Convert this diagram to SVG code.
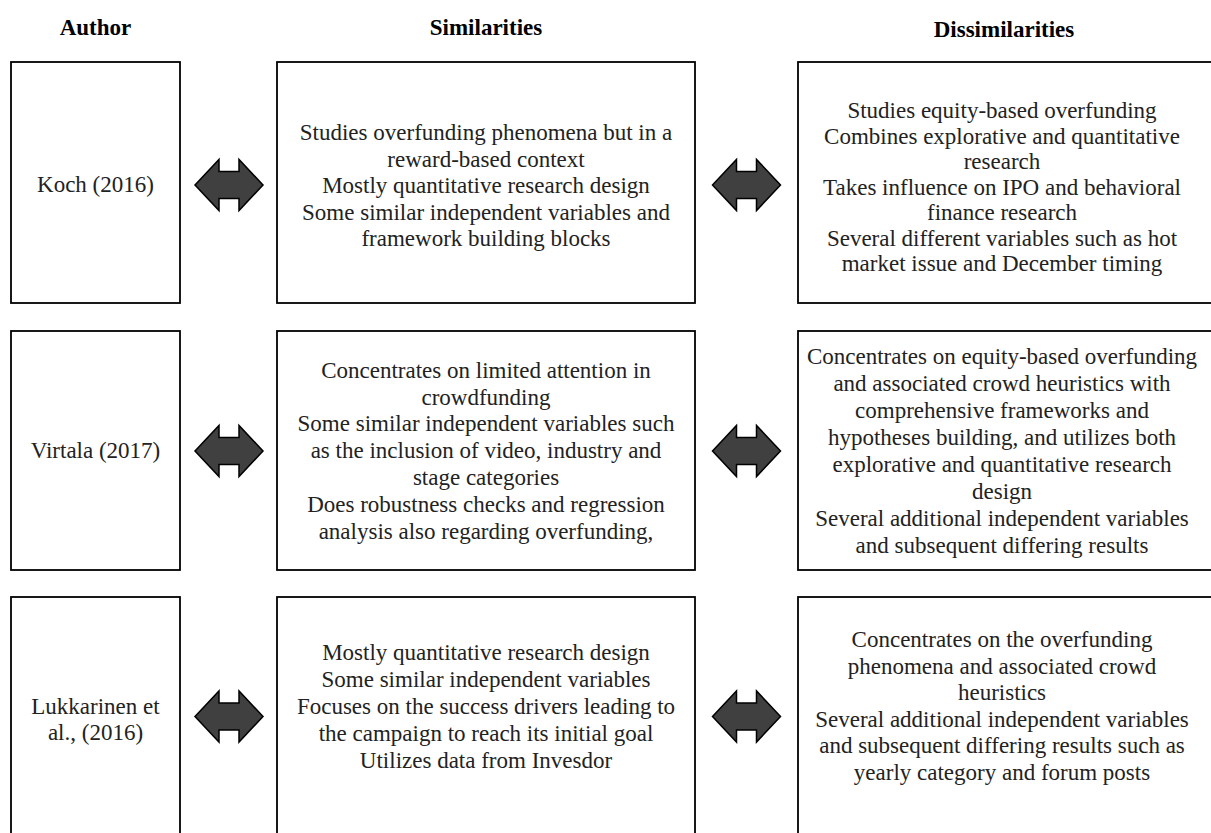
<svg xmlns="http://www.w3.org/2000/svg" width="1211" height="833" viewBox="0 0 1211 833">
<style>
.box{fill:#fff;stroke:#000;stroke-width:1.8}
.t{font-family:"Liberation Serif","Times New Roman",serif;font-size:23px;fill:#222;text-anchor:middle}
.h{font-family:"Liberation Serif","Times New Roman",serif;font-size:23px;font-weight:bold;fill:#000;text-anchor:middle}
.arr{fill:#404040;stroke:#000;stroke-width:1.5;stroke-linejoin:miter}
</style>
<defs>
<path id="dbl" d="M-34,0 L-10,-25.5 L-10,-13.5 L10,-13.5 L10,-25.5 L34,0 L10,25.5 L10,13.5 L-10,13.5 L-10,25.5 Z"/>
</defs>
<rect width="1211" height="833" fill="#fff"/>
<g id="headers">
<text class="h" x="95.5" y="35">Author</text>
<text class="h" x="486" y="35">Similarities</text>
<text class="h" x="1004" y="37">Dissimilarities</text>
</g>
<g id="koch">
<rect class="box" x="11" y="62" width="169" height="241"/>
<text class="t" x="95.5" y="192">Koch (2016)</text>
</g>
<g id="koch-sim">
<rect class="box" x="277" y="62" width="418" height="241"/>
<text class="t" x="486"><tspan x="486" y="140">Studies overfunding phenomena but in a</tspan><tspan x="486" y="167">reward-based context</tspan><tspan x="486" y="193">Mostly quantitative research design</tspan><tspan x="486" y="220">Some similar independent variables and</tspan><tspan x="486" y="246">framework building blocks</tspan></text>
</g>
<g id="koch-dis">
<rect class="box" x="798" y="62" width="420" height="241"/>
<text class="t" x="1002"><tspan x="1002" y="118">Studies equity-based overfunding</tspan><tspan x="1002" y="143.5">Combines explorative and quantitative</tspan><tspan x="1002" y="169">research</tspan><tspan x="1002" y="194.5">Takes influence on IPO and behavioral</tspan><tspan x="1002" y="220">finance research</tspan><tspan x="1002" y="245.5">Several different variables such as hot</tspan><tspan x="1002" y="271">market issue and December timing</tspan></text>
</g>
<g id="virtala">
<rect class="box" x="11" y="331" width="169" height="239"/>
<text class="t" x="95.5" y="458">Virtala (2017)</text>
</g>
<g id="virtala-sim">
<rect class="box" x="277" y="331" width="418" height="239"/>
<text class="t" x="486"><tspan x="486" y="377.5">Concentrates on limited attention in</tspan><tspan x="486" y="404.5">crowdfunding</tspan><tspan x="486" y="431">Some similar independent variables such</tspan><tspan x="486" y="458">as the inclusion of video, industry and</tspan><tspan x="486" y="485">stage categories</tspan><tspan x="486" y="512">Does robustness checks and regression</tspan><tspan x="486" y="539">analysis also regarding overfunding,</tspan></text>
</g>
<g id="virtala-dis">
<rect class="box" x="798" y="331" width="420" height="239"/>
<text class="t" x="1002"><tspan x="1002" y="364">Concentrates on equity-based overfunding</tspan><tspan x="1002" y="391">and associated crowd heuristics with</tspan><tspan x="1002" y="418">comprehensive frameworks and</tspan><tspan x="1002" y="445">hypotheses building, and utilizes both</tspan><tspan x="1002" y="472">explorative and quantitative research</tspan><tspan x="1002" y="499">design</tspan><tspan x="1002" y="526">Several additional independent variables</tspan><tspan x="1002" y="553">and subsequent differing results</tspan></text>
</g>
<g id="lukkarinen">
<rect class="box" x="11" y="597" width="169" height="260"/>
<text class="t" x="95.5"><tspan x="95.5" y="713.5">Lukkarinen et</tspan><tspan x="95.5" y="740">al., (2016)</tspan></text>
</g>
<g id="lukkarinen-sim">
<rect class="box" x="277" y="597" width="418" height="260"/>
<text class="t" x="486"><tspan x="486" y="659.5">Mostly quantitative research design</tspan><tspan x="486" y="686.5">Some similar independent variables</tspan><tspan x="486" y="713.5">Focuses on the success drivers leading to</tspan><tspan x="486" y="740.5">the campaign to reach its initial goal</tspan><tspan x="486" y="767.5">Utilizes data from Invesdor</tspan></text>
</g>
<g id="lukkarinen-dis">
<rect class="box" x="798" y="597" width="420" height="260"/>
<text class="t" x="1002"><tspan x="1002" y="647">Concentrates on the overfunding</tspan><tspan x="1002" y="673.5">phenomena and associated crowd</tspan><tspan x="1002" y="700">heuristics</tspan><tspan x="1002" y="726.5">Several additional independent variables</tspan><tspan x="1002" y="753">and subsequent differing results such as</tspan><tspan x="1002" y="779.5">yearly category and forum posts</tspan></text>
</g>
<g id="connectors">
<use href="#dbl" class="arr" transform="translate(229,185)"/>
<use href="#dbl" class="arr" transform="translate(746.5,185)"/>
<use href="#dbl" class="arr" transform="translate(229,451)"/>
<use href="#dbl" class="arr" transform="translate(746.5,451)"/>
<use href="#dbl" class="arr" transform="translate(229,716.5)"/>
<use href="#dbl" class="arr" transform="translate(746.5,716.5)"/>
</g>
</svg>
